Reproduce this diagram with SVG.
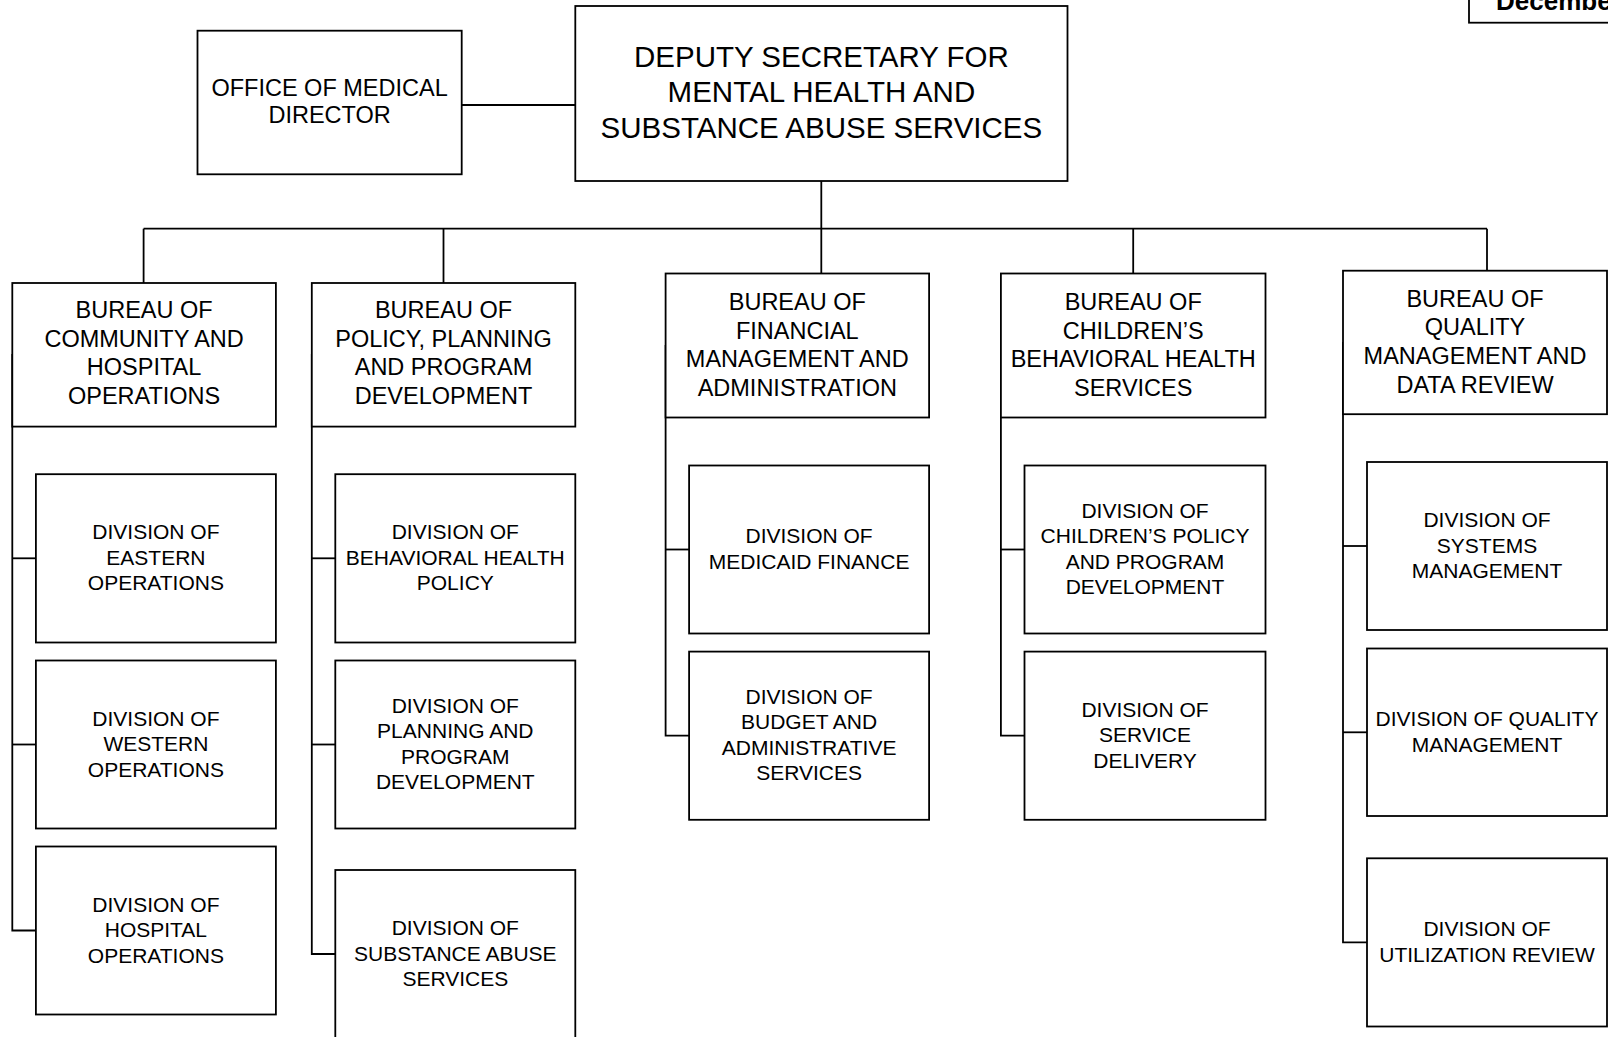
<svg xmlns="http://www.w3.org/2000/svg" width="1608" height="1037" viewBox="0 0 1608 1037">
<style>
.box{fill:#fff;stroke:#000;stroke-width:1.8}
.conn{fill:none;stroke:#000;stroke-width:1.8}
.t{font-family:"Liberation Sans",Arial,sans-serif;fill:#000;text-anchor:middle}
.bt{font-size:23.5px}
.dt{font-size:21px}
.top{font-size:29.5px}
.date{font-family:"Liberation Sans",Arial,sans-serif;font-size:26px;font-weight:bold;fill:#000}
</style>
<rect width="1608" height="1037" fill="#fff"/>

<g id="date-note">
<rect class="box" x="1469" y="-20" width="200" height="42.7"/>
<text class="date" x="1496" y="10">December</text>
</g>

<g id="connectors">
<line class="conn" x1="461.7" y1="105" x2="575.3" y2="105"/>
<line class="conn" x1="821.3" y1="181" x2="821.3" y2="228.7"/>
<line class="conn" x1="143.6" y1="228.7" x2="1487" y2="228.7"/>
<line class="conn" x1="143.6" y1="228.7" x2="143.6" y2="283"/>
<line class="conn" x1="443.5" y1="228.7" x2="443.5" y2="283"/>
<line class="conn" x1="821.3" y1="228.7" x2="821.3" y2="273.5"/>
<line class="conn" x1="1133.2" y1="228.7" x2="1133.2" y2="273.5"/>
<line class="conn" x1="1487" y1="228.7" x2="1487" y2="270.7"/>
<!-- column 1 -->
<polyline class="conn" points="12.3,354 12.3,930.5 35.9,930.5"/>
<line class="conn" x1="12.3" y1="558.3" x2="35.9" y2="558.3"/>
<line class="conn" x1="12.3" y1="744.5" x2="35.9" y2="744.5"/>
<!-- column 2 -->
<polyline class="conn" points="311.8,354 311.8,954 335.3,954"/>
<line class="conn" x1="311.8" y1="558.3" x2="335.3" y2="558.3"/>
<line class="conn" x1="311.8" y1="744.5" x2="335.3" y2="744.5"/>
<!-- column 3 -->
<polyline class="conn" points="665.6,345 665.6,735.7 689.1,735.7"/>
<line class="conn" x1="665.6" y1="549.5" x2="689.1" y2="549.5"/>
<!-- column 4 -->
<polyline class="conn" points="1000.9,345 1000.9,735.7 1024.5,735.7"/>
<line class="conn" x1="1000.9" y1="549.5" x2="1024.5" y2="549.5"/>
<!-- column 5 -->
<polyline class="conn" points="1343,342 1343,942.4 1367,942.4"/>
<line class="conn" x1="1343" y1="546" x2="1367" y2="546"/>
<line class="conn" x1="1343" y1="732.3" x2="1367" y2="732.3"/>
</g>

<g id="deputy-secretary">
<rect class="box" x="575.3" y="6" width="492.2" height="175"/>
<text class="t top"><tspan x="821.4" y="66.7">DEPUTY SECRETARY FOR</tspan><tspan x="821.4" y="102.3">MENTAL HEALTH AND</tspan><tspan x="821.4" y="137.7">SUBSTANCE ABUSE SERVICES</tspan></text>
</g>

<g id="office-medical-director">
<rect class="box" x="197.5" y="30.7" width="264.2" height="143.6"/>
<text class="t bt"><tspan x="329.6" y="95.7">OFFICE OF MEDICAL</tspan><tspan x="329.6" y="123.3">DIRECTOR</tspan></text>
</g>

<g id="bureau-community-hospital">
<rect class="box" x="12.3" y="283" width="263.6" height="143.6"/>
<text class="t bt"><tspan x="144.1" y="318">BUREAU OF</tspan><tspan x="144.1" y="346.7">COMMUNITY AND</tspan><tspan x="144.1" y="375.4">HOSPITAL</tspan><tspan x="144.1" y="404.1">OPERATIONS</tspan></text>
</g>

<g id="bureau-policy-planning">
<rect class="box" x="311.8" y="283" width="263.5" height="143.6"/>
<text class="t bt"><tspan x="443.5" y="318">BUREAU OF</tspan><tspan x="443.5" y="346.7">POLICY, PLANNING</tspan><tspan x="443.5" y="375.4">AND PROGRAM</tspan><tspan x="443.5" y="404.1">DEVELOPMENT</tspan></text>
</g>

<g id="bureau-financial">
<rect class="box" x="665.6" y="273.5" width="263.5" height="144"/>
<text class="t bt"><tspan x="797.3" y="310">BUREAU OF</tspan><tspan x="797.3" y="338.7">FINANCIAL</tspan><tspan x="797.3" y="367.4">MANAGEMENT AND</tspan><tspan x="797.3" y="396.1">ADMINISTRATION</tspan></text>
</g>

<g id="bureau-childrens">
<rect class="box" x="1000.9" y="273.5" width="264.6" height="144"/>
<text class="t bt"><tspan x="1133.2" y="310">BUREAU OF</tspan><tspan x="1133.2" y="338.7">CHILDREN’S</tspan><tspan x="1133.2" y="367.4">BEHAVIORAL HEALTH</tspan><tspan x="1133.2" y="396.1">SERVICES</tspan></text>
</g>

<g id="bureau-quality">
<rect class="box" x="1343" y="270.7" width="264" height="143.5"/>
<text class="t bt"><tspan x="1475" y="306.7">BUREAU OF</tspan><tspan x="1475" y="335.4">QUALITY</tspan><tspan x="1475" y="364.1">MANAGEMENT AND</tspan><tspan x="1475" y="392.8">DATA REVIEW</tspan></text>
</g>

<g id="div-eastern">
<rect class="box" x="35.9" y="474.2" width="240" height="168.3"/>
<text class="t dt"><tspan x="155.9" y="539.3">DIVISION OF</tspan><tspan x="155.9" y="564.8">EASTERN</tspan><tspan x="155.9" y="590.3">OPERATIONS</tspan></text>
</g>
<g id="div-western">
<rect class="box" x="35.9" y="660.5" width="240" height="168"/>
<text class="t dt"><tspan x="155.9" y="725.5">DIVISION OF</tspan><tspan x="155.9" y="751">WESTERN</tspan><tspan x="155.9" y="776.5">OPERATIONS</tspan></text>
</g>
<g id="div-hospital">
<rect class="box" x="35.9" y="846.5" width="240" height="168"/>
<text class="t dt"><tspan x="155.9" y="911.5">DIVISION OF</tspan><tspan x="155.9" y="937">HOSPITAL</tspan><tspan x="155.9" y="962.5">OPERATIONS</tspan></text>
</g>

<g id="div-behavioral-policy">
<rect class="box" x="335.3" y="474.2" width="240" height="168.3"/>
<text class="t dt"><tspan x="455.3" y="539.3">DIVISION OF</tspan><tspan x="455.3" y="564.8">BEHAVIORAL HEALTH</tspan><tspan x="455.3" y="590.3">POLICY</tspan></text>
</g>
<g id="div-planning">
<rect class="box" x="335.3" y="660.5" width="240" height="168"/>
<text class="t dt"><tspan x="455.3" y="712.75">DIVISION OF</tspan><tspan x="455.3" y="738.25">PLANNING AND</tspan><tspan x="455.3" y="763.75">PROGRAM</tspan><tspan x="455.3" y="789.25">DEVELOPMENT</tspan></text>
</g>
<g id="div-substance-abuse">
<rect class="box" x="335.3" y="870" width="240" height="168.5"/>
<text class="t dt"><tspan x="455.3" y="935">DIVISION OF</tspan><tspan x="455.3" y="960.5">SUBSTANCE ABUSE</tspan><tspan x="455.3" y="986">SERVICES</tspan></text>
</g>

<g id="div-medicaid">
<rect class="box" x="689.1" y="465.5" width="240" height="168"/>
<text class="t dt"><tspan x="809.1" y="543.25">DIVISION OF</tspan><tspan x="809.1" y="568.75">MEDICAID FINANCE</tspan></text>
</g>
<g id="div-budget">
<rect class="box" x="689.1" y="651.6" width="240" height="168.2"/>
<text class="t dt"><tspan x="809.1" y="703.95">DIVISION OF</tspan><tspan x="809.1" y="729.45">BUDGET AND</tspan><tspan x="809.1" y="754.95">ADMINISTRATIVE</tspan><tspan x="809.1" y="780.45">SERVICES</tspan></text>
</g>

<g id="div-childrens-policy">
<rect class="box" x="1024.5" y="465.5" width="241" height="168"/>
<text class="t dt"><tspan x="1145" y="517.75">DIVISION OF</tspan><tspan x="1145" y="543.25">CHILDREN’S POLICY</tspan><tspan x="1145" y="568.75">AND PROGRAM</tspan><tspan x="1145" y="594.25">DEVELOPMENT</tspan></text>
</g>
<g id="div-service-delivery">
<rect class="box" x="1024.5" y="651.6" width="241" height="168.2"/>
<text class="t dt"><tspan x="1145" y="716.7">DIVISION OF</tspan><tspan x="1145" y="742.2">SERVICE</tspan><tspan x="1145" y="767.7">DELIVERY</tspan></text>
</g>

<g id="div-systems">
<rect class="box" x="1367" y="462" width="240" height="168"/>
<text class="t dt"><tspan x="1487" y="527">DIVISION OF</tspan><tspan x="1487" y="552.5">SYSTEMS</tspan><tspan x="1487" y="578">MANAGEMENT</tspan></text>
</g>
<g id="div-quality">
<rect class="box" x="1367" y="648.5" width="240" height="167.5"/>
<text class="t dt"><tspan x="1487" y="726.05">DIVISION OF QUALITY</tspan><tspan x="1487" y="751.55">MANAGEMENT</tspan></text>
</g>
<g id="div-utilization">
<rect class="box" x="1367" y="858.3" width="240" height="168.2"/>
<text class="t dt"><tspan x="1487" y="936.15">DIVISION OF</tspan><tspan x="1487" y="961.65">UTILIZATION REVIEW</tspan></text>
</g>
</svg>
